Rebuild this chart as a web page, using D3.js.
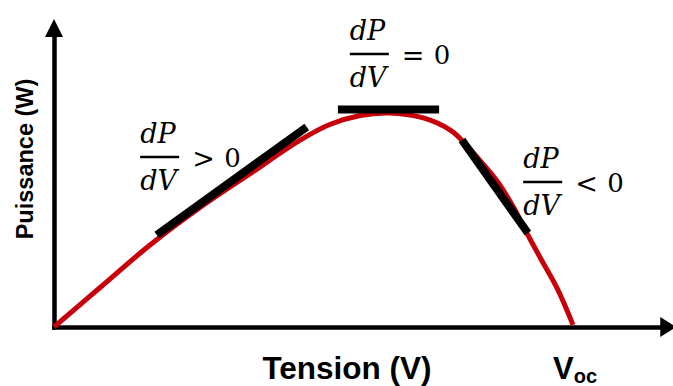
<!DOCTYPE html>
<html>
<head>
<meta charset="utf-8">
<script src="https://cdn.jsdelivr.net/npm/d3@7"></script>
<style>
    body { margin: 0; background: #fff; }
    svg { display: block; }
</style>
</head>
<body>
<div id="chart"></div>
<script>
// P-V curve, normalised units (V / Voc, P / Pmax)
const voltage = [0, 0.09, 0.185, 0.28, 0.38, 0.475, 0.53, 0.59, 0.645, 0.71, 0.765, 0.79, 0.82, 0.855, 0.885, 0.91, 0.935, 0.97, 1.0];
const power   = [0, 0.187, 0.383, 0.556, 0.72, 0.874, 0.945, 0.988, 1.0, 0.978, 0.918, 0.862, 0.78, 0.678, 0.561, 0.444, 0.332, 0.178, 0.01];

// tangent segments [start, end]
const tangentV = [[0.198, 0.487], [0.547, 0.742], [0.786, 0.913]];
const tangentP = [[0.43, 0.935], [1.016, 1.016], [0.874, 0.439]];

// annotation anchors (left of fraction bar) and relation signs
const labelV = [0.166, 0.570, 0.904];
const labelP = [0.794, 1.276, 0.678];
const labelSign = [">", "=", "<"];

const xTitle = "Tension (V)";
const yTitle = "Puissance (W)";

const width = 673, height = 386;

let svg = d3.select("#chart").append("svg")
    .attr("width", width)
    .attr("height", height);

let x = d3.scaleLinear().domain([0, 1]).range([54, 573]);
let y = d3.scaleLinear().domain([0, 1]).range([327, 113]);

// axes (no ticks), extended past the data with arrowheads
let xEnd = 1.17, yEnd = 1.36;
let xAxisScale = d3.scaleLinear().domain([0, xEnd]).range([x(0), x(xEnd)]);
let yAxisScale = d3.scaleLinear().domain([0, yEnd]).range([y(0), y(yEnd)]);

let xAxisGroup = svg.append("g")
    .attr("transform", `translate(0, ${y(0)})`)
    .call(d3.axisBottom(xAxisScale).tickValues([]).tickSizeOuter(0));

let yAxisGroup = svg.append("g")
    .attr("transform", `translate(${x(0)}, 0)`)
    .call(d3.axisLeft(yAxisScale).tickValues([]).tickSizeOuter(0));

svg.selectAll(".domain")
    .attr("stroke", "#000")
    .attr("stroke-width", 4.5)
    .attr("stroke-linecap", "square");

// arrowheads
let xa = x(xEnd), ya = y(yEnd);
svg.append("path")
    .attr("d", `M${xa - 1},${y(0) - 10}L${xa + 15},${y(0)}L${xa - 1},${y(0) + 10}Z`)
    .attr("fill", "#000");
svg.append("path")
    .attr("d", `M${x(0) - 9},${ya + 1}L${x(0)},${ya - 17}L${x(0) + 9},${ya + 1}Z`)
    .attr("fill", "#000");

// curve
let curveData = voltage.map((v, i) => ({v: v, p: power[i]}));
let line = d3.line()
    .x(d => x(d.v))
    .y(d => y(d.p))
    .curve(d3.curveCatmullRom.alpha(0.5));

svg.append("path")
    .datum(curveData)
    .attr("d", line)
    .attr("fill", "none")
    .attr("stroke", "#c8000a")
    .attr("stroke-width", 5);

// tangents
svg.selectAll(".tangent")
    .data(tangentV.map((v, i) => ({v: v, p: tangentP[i]})))
    .enter().append("line")
    .attr("class", "tangent")
    .attr("x1", d => x(d.v[0]))
    .attr("y1", d => y(d.p[0]))
    .attr("x2", d => x(d.v[1]))
    .attr("y2", d => y(d.p[1]))
    .attr("stroke", "#000")
    .attr("stroke-width", 8);

// dP/dV annotations
let mathFont = "'DejaVu Serif', serif";
let labels = svg.selectAll(".dlabel")
    .data(labelV.map((v, i) => ({v: v, p: labelP[i], sign: labelSign[i]})))
    .enter().append("g")
    .attr("class", "dlabel")
    .attr("transform", d => `translate(${x(d.v)}, ${y(d.p)})`);

labels.append("text")
    .attr("x", 0).attr("y", -14)
    .attr("font-family", mathFont)
    .attr("font-style", "italic")
    .attr("font-size", 27)
    .text("dP");

labels.append("line")
    .attr("x1", 0).attr("x2", 39)
    .attr("y1", 0).attr("y2", 0)
    .attr("stroke", "#000")
    .attr("stroke-width", 2.5);

labels.append("text")
    .attr("x", 0).attr("y", 33)
    .attr("font-family", mathFont)
    .attr("font-style", "italic")
    .attr("font-size", 27)
    .text("dV");

labels.append("text")
    .attr("x", 52).attr("y", 11)
    .attr("font-family", mathFont)
    .attr("font-size", 27)
    .text(d => d.sign);

labels.append("text")
    .attr("x", 84).attr("y", 10)
    .attr("font-family", mathFont)
    .attr("font-size", 26)
    .text("0");

// axis titles
svg.append("text")
    .attr("transform", `translate(33, 159) rotate(-90)`)
    .attr("text-anchor", "middle")
    .attr("font-family", "'Liberation Sans', Arial, sans-serif")
    .attr("font-weight", "bold")
    .attr("font-size", 23.5)
    .text(yTitle);

svg.append("text")
    .attr("x", 347).attr("y", 379)
    .attr("text-anchor", "middle")
    .attr("font-family", "'Liberation Sans', Arial, sans-serif")
    .attr("font-weight", "bold")
    .attr("font-size", 31.5)
    .text(xTitle);

let voc = svg.append("text")
    .attr("x", x(1) - 20).attr("y", 379)
    .attr("font-family", "'Liberation Sans', Arial, sans-serif")
    .attr("font-weight", "bold")
    .attr("font-size", 31);
voc.append("tspan").text("V");
voc.append("tspan")
    .attr("font-size", 20)
    .attr("dy", 4)
    .text("oc");
</script>
</body>
</html>
